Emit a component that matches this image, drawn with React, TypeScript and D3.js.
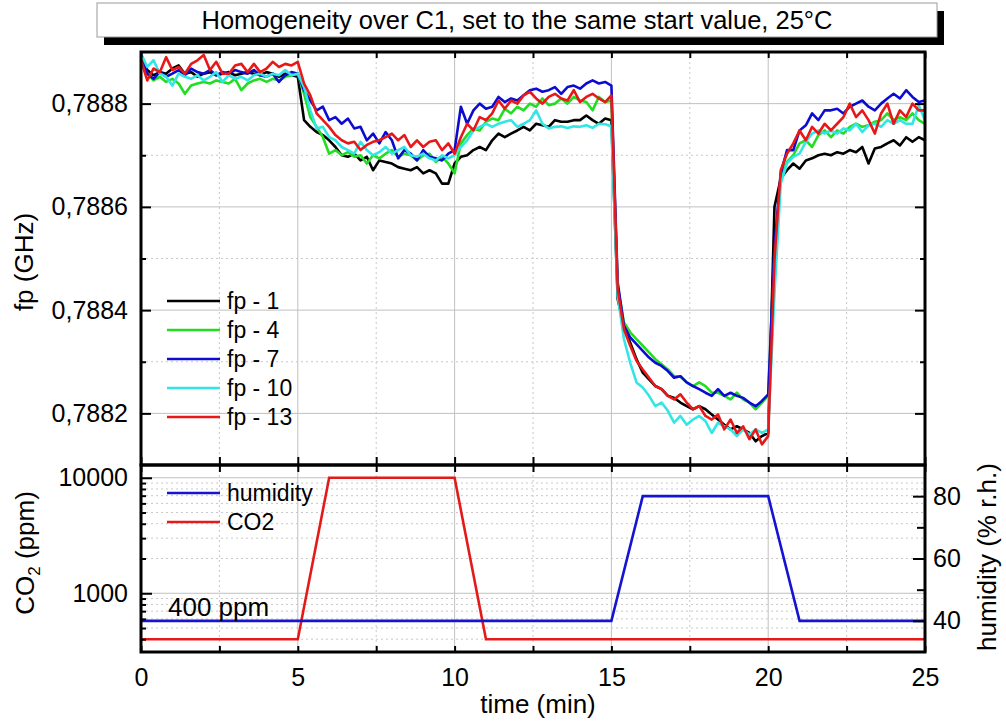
import React, { useEffect, useRef } from "react";
import * as d3 from "d3";

// sampling interval of the fp traces (min)
const SAMPLE_STEP = 0.2;

// resonance frequency traces (GHz), one value per SAMPLE_STEP from t = 0
const fp1 = [
  0.78889, 0.788865, 0.788855, 0.788861, 0.788858, 0.788868, 0.788874, 0.788858, 0.788861, 0.788852,
  0.788858, 0.788861, 0.788855, 0.788858, 0.788861, 0.788855, 0.788858, 0.788861, 0.788858, 0.788855,
  0.788861, 0.788858, 0.788852, 0.788858, 0.788855, 0.788852,
  0.788768, 0.788755, 0.788745, 0.788739, 0.788729, 0.788716, 0.7887, 0.788697, 0.788703, 0.78869,
  0.788697, 0.788671, 0.78869, 0.788687, 0.788684, 0.788677, 0.788674, 0.788671, 0.788677, 0.788665,
  0.788671, 0.788665, 0.788645, 0.788645, 0.788684,
  0.788697, 0.7887, 0.78871, 0.788716, 0.78871, 0.788729, 0.788742, 0.788735, 0.788742, 0.788748,
  0.788755, 0.788748, 0.788761, 0.788758, 0.788755, 0.788768, 0.788765, 0.788765, 0.788768, 0.788768,
  0.788777, 0.788768, 0.788761, 0.788771, 0.788768,
  0.788421, 0.78837, 0.788337, 0.788305, 0.788279, 0.788266, 0.788253, 0.788247, 0.788234, 0.78823,
  0.788221, 0.788214, 0.788208, 0.788214, 0.788208, 0.788198, 0.788188, 0.788178, 0.788169, 0.788175,
  0.788169, 0.788162, 0.788146, 0.788156, 0.788162,
  0.7886, 0.788655, 0.788671, 0.788684, 0.788674, 0.78869, 0.788694, 0.7887, 0.788703, 0.7887,
  0.788706, 0.788703, 0.78871, 0.788706, 0.788716, 0.788684, 0.788713, 0.788716, 0.788723, 0.788729,
  0.788719, 0.788735, 0.788726, 0.788735, 0.788729,
];
const fp4 = [
  0.788884, 0.788858, 0.788845, 0.788852, 0.788842, 0.788848, 0.788839, 0.788819, 0.788835, 0.788839,
  0.788842, 0.788839, 0.788845, 0.788842, 0.788839, 0.788848, 0.788826, 0.788839, 0.788845, 0.788848,
  0.788842, 0.788848, 0.788845, 0.788852, 0.788855, 0.788858,
  0.788819, 0.788774, 0.788755, 0.788735, 0.788703, 0.78871, 0.7887, 0.788706, 0.788697, 0.7887,
  0.788684, 0.7887, 0.788694, 0.788703, 0.78871, 0.788697, 0.788703, 0.7887, 0.78869, 0.7887,
  0.788703, 0.788687, 0.788697, 0.788684, 0.788665,
  0.788723, 0.788739, 0.788752, 0.788748, 0.788765, 0.788771, 0.788768, 0.78879, 0.788781, 0.788794,
  0.788787, 0.7888, 0.788794, 0.78881, 0.788797, 0.7888, 0.78881, 0.7888, 0.788813, 0.788806,
  0.788803, 0.788787, 0.788813, 0.788803, 0.788806,
  0.788447, 0.788376, 0.788357, 0.788344, 0.788331, 0.788318, 0.788305, 0.788295, 0.788285, 0.788272,
  0.788272, 0.78826, 0.788253, 0.78826, 0.788253, 0.78824, 0.78824, 0.788234, 0.788227, 0.78824,
  0.788227, 0.788221, 0.788208, 0.788221, 0.788234,
  0.788503, 0.788658, 0.788687, 0.7887, 0.788723, 0.788729, 0.788716, 0.788739, 0.788748, 0.788735,
  0.788748, 0.788742, 0.788755, 0.788761, 0.788755, 0.788758, 0.788765, 0.788768, 0.788781, 0.788768,
  0.788774, 0.788768, 0.788781, 0.788768, 0.788761,
];
const fp7 = [
  0.788897, 0.788858, 0.788848, 0.788861, 0.788852, 0.788858, 0.788865, 0.788855, 0.788868, 0.788861,
  0.788858, 0.788865, 0.788855, 0.788861, 0.788858, 0.788865, 0.788861, 0.788858, 0.788865, 0.788855,
  0.788852, 0.788858, 0.788842, 0.788855, 0.788861, 0.788858,
  0.788826, 0.788806, 0.788787, 0.788794, 0.788768, 0.788774, 0.788761, 0.788771, 0.788752, 0.788755,
  0.788729, 0.788742, 0.788723, 0.788745, 0.788729, 0.788694, 0.78871, 0.788703, 0.78869, 0.78871,
  0.788697, 0.788694, 0.78869, 0.788703, 0.78871,
  0.788794, 0.788761, 0.788787, 0.7888, 0.78879, 0.788794, 0.788813, 0.788803, 0.78881, 0.788806,
  0.788816, 0.788826, 0.788829, 0.788823, 0.788826, 0.788832, 0.788819, 0.788832, 0.788835, 0.788829,
  0.788839, 0.788845, 0.788839, 0.788842, 0.788835,
  0.788454, 0.78837, 0.788347, 0.788334, 0.788321, 0.788308, 0.788298, 0.788292, 0.788282, 0.788269,
  0.788272, 0.78826, 0.788253, 0.788247, 0.78824, 0.788234, 0.788247, 0.788234, 0.78824, 0.788234,
  0.78823, 0.788221, 0.788214, 0.788224, 0.788237,
  0.788523, 0.788665, 0.78871, 0.78871, 0.788748, 0.788758, 0.788781, 0.788768, 0.788787, 0.788787,
  0.78879, 0.788781, 0.788794, 0.7888, 0.788806, 0.788794, 0.788787, 0.7888, 0.78881, 0.788819,
  0.78881, 0.788826, 0.788813, 0.788803, 0.788806,
];
const fp10 = [
  0.788897, 0.788871, 0.788884, 0.788858, 0.788852, 0.788835, 0.788858, 0.788852, 0.788848, 0.788855,
  0.788845, 0.788852, 0.788861, 0.788842, 0.788855, 0.788848, 0.788852, 0.788845, 0.788855, 0.788858,
  0.788852, 0.788858, 0.788855, 0.788865, 0.788855, 0.788858,
  0.788832, 0.788787, 0.788752, 0.788755, 0.788735, 0.788729, 0.788716, 0.78871, 0.788703, 0.788726,
  0.78871, 0.7887, 0.788706, 0.788716, 0.788703, 0.78871, 0.788716, 0.7887, 0.788697, 0.788703,
  0.788694, 0.78869, 0.7887, 0.788694, 0.7887,
  0.788716, 0.788729, 0.788748, 0.788755, 0.788761, 0.788755, 0.788761, 0.788765, 0.788768, 0.788755,
  0.788761, 0.788768, 0.788787, 0.788761, 0.788752, 0.788755, 0.788756, 0.788753, 0.788756, 0.788755,
  0.788758, 0.788753, 0.788761, 0.78876, 0.788756,
  0.788428, 0.788344, 0.788298, 0.78826, 0.78825, 0.788234, 0.788214, 0.788221, 0.788205, 0.788182,
  0.788195, 0.788178, 0.788188, 0.788195, 0.788185, 0.788162, 0.788182, 0.788175, 0.788169, 0.788156,
  0.788169, 0.788159, 0.788169, 0.788162, 0.788169,
  0.788432, 0.788645, 0.788684, 0.788697, 0.788703, 0.788726, 0.788742, 0.788748, 0.788742, 0.788748,
  0.788742, 0.788752, 0.788748, 0.788761, 0.788745, 0.788758, 0.788761, 0.788755, 0.788768, 0.788761,
  0.788768, 0.788761, 0.788761, 0.788797, 0.788768,
];
const fp13 = [
  0.788884, 0.788845, 0.788868, 0.788861, 0.78889, 0.788865, 0.788871, 0.788858, 0.788877, 0.788884,
  0.788894, 0.788865, 0.788881, 0.788858, 0.788858, 0.788874, 0.788877, 0.788861, 0.788877, 0.788861,
  0.788868, 0.788881, 0.788871, 0.788877, 0.788874, 0.788881,
  0.788839, 0.788816, 0.788781, 0.788768, 0.788755, 0.788739, 0.788729, 0.788723, 0.788726, 0.78871,
  0.78872, 0.788726, 0.788729, 0.788735, 0.788742, 0.788729, 0.788739, 0.788716, 0.788729, 0.788716,
  0.788726, 0.788729, 0.78871, 0.788723, 0.788703,
  0.788735, 0.788761, 0.788748, 0.788774, 0.788768, 0.788781, 0.788806, 0.78879, 0.788806, 0.7888,
  0.788816, 0.788823, 0.78881, 0.7888, 0.788813, 0.788819, 0.78881, 0.788806, 0.788826, 0.788803,
  0.788813, 0.788819, 0.78881, 0.788803, 0.788816,
  0.788441, 0.788363, 0.788331, 0.788302, 0.788285, 0.788269, 0.788253, 0.788247, 0.788234, 0.788227,
  0.788237, 0.788221, 0.788208, 0.788214, 0.788195, 0.788188, 0.788198, 0.788169, 0.788188, 0.788162,
  0.788175, 0.78815, 0.788169, 0.78814, 0.788156,
  0.788497, 0.788671, 0.788703, 0.788723, 0.788748, 0.788729, 0.788755, 0.788742, 0.788761, 0.788748,
  0.788761, 0.788774, 0.7888, 0.788774, 0.788787, 0.788768, 0.788742, 0.788781, 0.7888, 0.788761,
  0.788787, 0.788774, 0.7888, 0.788787, 0.788787,
];

const fpNames = ["fp - 1", "fp - 4", "fp - 7", "fp - 10", "fp - 13"];
const fpColors = ["#000000", "#22dd22", "#0c0cd0", "#33e6e6", "#e81818"];

// gas program (bottom panel)
const co2Times = [0, 5, 6, 10, 11, 25];
const co2Values = [400, 400, 10000, 10000, 400, 400];
const humTimes = [0, 15, 16, 20, 21, 25];
const humValues = [40, 40, 80, 80, 40, 40];

// ticks
const timeTicks = [0, 5, 10, 15, 20, 25];
const timeMinorTicks = [2.5, 7.5, 12.5, 17.5, 22.5];
const fpTicks = [0.7882, 0.7884, 0.7886, 0.7888];
const fpMinorTicks = [0.7883, 0.7885, 0.7887];
const co2Ticks = [1000, 10000];
const co2MinorTicks = [400, 500, 600, 700, 800, 900, 2000, 3000, 4000, 5000, 6000, 7000, 8000, 9000];
const humTicks = [40, 60, 80];
const humMinorTicks = [50, 70];

const W = 1006;
const H = 721;
const FONT = "'Liberation Sans', Arial, sans-serif";

export default function App() {
  const ref = useRef<SVGSVGElement>(null);

  useEffect(() => {
    const svg = d3.select(ref.current);
    svg.selectAll("*").remove();

    const left = 141, right = 925, top = 52, mid = 465, bottom = 652;
    const x = d3.scaleLinear().domain([0, 25]).range([left, right]);
    const y = d3.scaleLinear().domain([0.7881, 0.7889]).range([mid, top]);
    const yCo2 = d3.scaleLog().domain([310, 12900]).range([bottom, mid]);
    const yHum = d3.scaleLinear().domain([30, 90]).range([bottom, mid]);

    const gridSolid = "#c0c0c0";
    const gridDot = "#c8c8c8";

    // title box with shadow
    svg.append("rect").attr("x", 104).attr("y", 11).attr("width", 840).attr("height", 34).attr("fill", "#000");
    svg.append("rect").attr("x", 97).attr("y", 3).attr("width", 840).attr("height", 34)
      .attr("fill", "#fff").attr("stroke", "#9a9a9a").attr("stroke-width", 1);
    svg.append("text").attr("x", 517).attr("y", 28.5).attr("text-anchor", "middle")
      .attr("font-size", 25.5).attr("font-family", FONT)
      .text("Homogeneity over C1, set to the same start value, 25°C");

    // grids
    const grid = svg.append("g");
    const vgrid = (y0: number, y1: number) => {
      grid.selectAll(null).data([5, 10, 15, 20]).join("line")
        .attr("x1", d => x(d)).attr("x2", d => x(d)).attr("y1", y0).attr("y2", y1)
        .attr("stroke", gridSolid).attr("stroke-width", 1);
      grid.selectAll(null).data(timeMinorTicks).join("line")
        .attr("x1", d => x(d)).attr("x2", d => x(d)).attr("y1", y0).attr("y2", y1)
        .attr("stroke", gridDot).attr("stroke-width", 1).attr("stroke-dasharray", "2,3");
    };
    vgrid(top, mid);
    vgrid(mid, bottom);
    const hgrid = (vals: number[], sc: (v: number) => number, dotted: boolean) => {
      grid.selectAll(null).data(vals).join("line")
        .attr("x1", left).attr("x2", right).attr("y1", d => sc(d)).attr("y2", d => sc(d))
        .attr("stroke", dotted ? gridDot : gridSolid).attr("stroke-width", 1)
        .attr("stroke-dasharray", dotted ? "2,3" : null);
    };
    hgrid(fpTicks, y, false);
    hgrid(fpMinorTicks, y, true);
    hgrid(co2Ticks, yCo2, false);
    hgrid(co2MinorTicks, yCo2, true);

    // fp traces
    svg.append("clipPath").attr("id", "topclip").append("rect")
      .attr("x", left).attr("y", top).attr("width", right - left).attr("height", mid - top);
    const line = d3.line<number>().x((_, i) => x(i * SAMPLE_STEP)).y(d => y(d));
    const traces = [fp1, fp4, fp7, fp10, fp13];
    svg.append("g").attr("clip-path", "url(#topclip)")
      .selectAll("path").data(traces).join("path")
      .attr("d", d => line(d))
      .attr("fill", "none")
      .attr("stroke", (_, i) => fpColors[i])
      .attr("stroke-width", 2.6)
      .attr("stroke-linejoin", "round");

    // gas program
    const co2Line = d3.line<number>().x((_, i) => x(co2Times[i])).y(d => yCo2(d));
    const humLine = d3.line<number>().x((_, i) => x(humTimes[i])).y(d => yHum(d));
    svg.append("path").attr("d", co2Line(co2Values)).attr("fill", "none")
      .attr("stroke", "#e41a1a").attr("stroke-width", 2.6);
    svg.append("path").attr("d", humLine(humValues)).attr("fill", "none")
      .attr("stroke", "#1414d2").attr("stroke-width", 2.6);

    // axes
    const styleAxis = (g: d3.Selection<SVGGElement, unknown, null, undefined>) => {
      g.select(".domain").remove();
      g.attr("font-size", 25).attr("font-family", FONT);
      g.selectAll(".tick line").attr("stroke", "#000").attr("stroke-width", 2);
    };
    const noLabel = () => "";
    const allTimeTicks = [...timeTicks, ...timeMinorTicks];

    // top panel: x ticks on top and bottom edges
    svg.append("g").attr("transform", `translate(0,${top})`)
      .call(d3.axisTop(x).tickValues(allTimeTicks).tickSize(-6).tickFormat(noLabel)).call(styleAxis);
    svg.append("g").attr("transform", `translate(0,${mid})`)
      .call(d3.axisBottom(x).tickValues(allTimeTicks).tickSize(-8).tickFormat(noLabel)).call(styleAxis);
    // bottom panel: x ticks on top edge and labelled bottom edge
    svg.append("g").attr("transform", `translate(0,${mid})`)
      .call(d3.axisTop(x).tickValues(allTimeTicks).tickSize(-7).tickFormat(noLabel)).call(styleAxis);
    svg.append("g").attr("transform", `translate(0,${bottom})`)
      .call(d3.axisBottom(x).tickValues(timeTicks).tickSize(-6).tickPadding(16).tickFormat(d3.format("d")))
      .call(styleAxis);
    svg.append("g").attr("transform", `translate(0,${bottom})`)
      .call(d3.axisBottom(x).tickValues(timeMinorTicks).tickSize(-6).tickFormat(noLabel)).call(styleAxis);

    // top panel y
    const fpFmt = (d: d3.NumberValue) => d3.format(".4f")(+d).replace(".", ",");
    svg.append("g").attr("transform", `translate(${left},0)`)
      .call(d3.axisLeft(y).tickValues(fpTicks).tickSize(-10).tickPadding(13).tickFormat(fpFmt)).call(styleAxis);
    svg.append("g").attr("transform", `translate(${left},0)`)
      .call(d3.axisLeft(y).tickValues(fpMinorTicks).tickSize(-5).tickFormat(noLabel)).call(styleAxis);
    svg.append("g").attr("transform", `translate(${right},0)`)
      .call(d3.axisRight(y).tickValues(fpTicks).tickSize(-10).tickFormat(noLabel)).call(styleAxis);
    svg.append("g").attr("transform", `translate(${right},0)`)
      .call(d3.axisRight(y).tickValues(fpMinorTicks).tickSize(-5).tickFormat(noLabel)).call(styleAxis);

    // bottom panel y (CO2 log, humidity right)
    svg.append("g").attr("transform", `translate(${left},0)`)
      .call(d3.axisLeft(yCo2).tickValues(co2Ticks).tickSize(-11).tickPadding(13).tickFormat(d3.format("d")))
      .call(styleAxis);
    svg.append("g").attr("transform", `translate(${left},0)`)
      .call(d3.axisLeft(yCo2).tickValues(co2MinorTicks).tickSize(-5).tickFormat(noLabel)).call(styleAxis);
    svg.append("g").attr("transform", `translate(${right},0)`)
      .call(d3.axisRight(yHum).tickValues(humTicks).tickSize(-12).tickPadding(8).tickFormat(d3.format("d")))
      .call(styleAxis);
    svg.append("g").attr("transform", `translate(${right},0)`)
      .call(d3.axisRight(yHum).tickValues(humMinorTicks).tickSize(-8).tickFormat(noLabel)).call(styleAxis);

    // frames
    svg.append("rect").attr("x", left).attr("y", top).attr("width", right - left).attr("height", mid - top)
      .attr("fill", "none").attr("stroke", "#000").attr("stroke-width", 3);
    svg.append("rect").attr("x", left).attr("y", mid).attr("width", right - left).attr("height", bottom - mid)
      .attr("fill", "none").attr("stroke", "#000").attr("stroke-width", 3);

    // legends
    const leg = svg.append("g").attr("font-family", FONT).attr("font-size", 23);
    fpNames.forEach((name, i) => {
      const ly = 301 + i * 29;
      leg.append("line").attr("x1", 167).attr("x2", 220).attr("y1", ly).attr("y2", ly)
        .attr("stroke", fpColors[i]).attr("stroke-width", 2.6);
      leg.append("text").attr("x", 227).attr("y", ly).attr("dy", "0.35em").text(name);
    });
    [["humidity", "#1414d2"], ["CO2", "#e41a1a"]].forEach(([name, c], i) => {
      const ly = 493 + i * 29;
      leg.append("line").attr("x1", 167).attr("x2", 220).attr("y1", ly).attr("y2", ly)
        .attr("stroke", c).attr("stroke-width", 2.6);
      leg.append("text").attr("x", 227).attr("y", ly).attr("dy", "0.35em").text(name);
    });
    svg.append("text").attr("x", 168).attr("y", 616).attr("font-size", 26).attr("font-family", FONT)
      .text("400 ppm");

    // axis titles
    const titles = svg.append("g").attr("font-family", FONT).attr("font-size", 26).attr("text-anchor", "middle");
    titles.append("text").attr("x", (left + right) / 2 + 5).attr("y", 713).text("time (min)");
    titles.append("text").attr("transform", "translate(33,262) rotate(-90)").text("fp (GHz)");
    const co2Title = titles.append("text").attr("transform", "translate(34,553) rotate(-90)");
    co2Title.append("tspan").text("CO");
    co2Title.append("tspan").attr("font-size", 17).attr("dy", 6).text("2");
    co2Title.append("tspan").attr("dy", -6).text(" (ppm)");
    titles.append("text").attr("transform", "translate(996,557) rotate(-90)")
      .text("humidity (% r.h.)");
  }, []);

  return (
    <svg
      ref={ref}
      width={W}
      height={H}
      style={{ position: "absolute", left: 0, top: 0, background: "#fff" }}
    />
  );
}
